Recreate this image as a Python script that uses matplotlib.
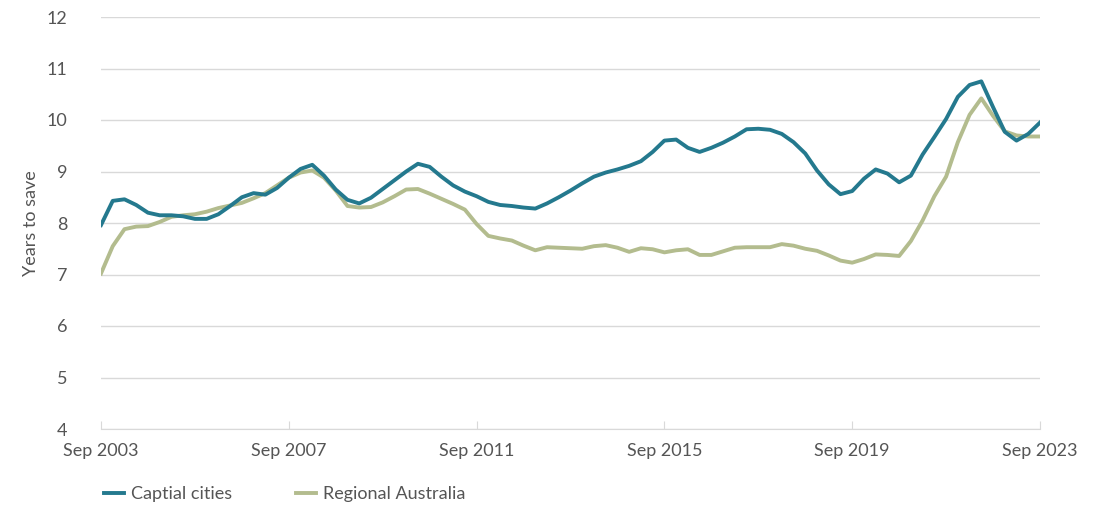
import matplotlib.pyplot as plt

# years to save for a deposit, quarterly Sep 2003 - Sep 2023
capital = [7.96, 8.43, 8.46, 8.35, 8.2, 8.15, 8.15, 8.13, 8.08, 8.08,
           8.17, 8.33, 8.5, 8.58, 8.55, 8.68, 8.88, 9.05, 9.13, 8.92,
           8.65, 8.45, 8.38, 8.49, 8.66, 8.83, 9.0, 9.15, 9.09, 8.9,
           8.73, 8.61, 8.52, 8.41, 8.35, 8.33, 8.3, 8.28, 8.38, 8.5,
           8.63, 8.77, 8.9, 8.98, 9.04, 9.11, 9.2, 9.38, 9.6, 9.62,
           9.46, 9.38, 9.46, 9.56, 9.68, 9.82, 9.83, 9.81, 9.73, 9.57,
           9.35, 9.02, 8.75, 8.56, 8.62, 8.86, 9.04, 8.96, 8.79, 8.92,
           9.33, 9.67, 10.02, 10.45, 10.68, 10.75, 10.25, 9.77, 9.6, 9.73,
           9.95]
regional = [7.02, 7.55, 7.88, 7.93, 7.94, 8.02, 8.12, 8.15, 8.17, 8.22,
            8.29, 8.34, 8.39, 8.48, 8.58, 8.73, 8.88, 8.98, 9.02, 8.88,
            8.63, 8.33, 8.3, 8.31, 8.4, 8.52, 8.65, 8.66, 8.57, 8.47,
            8.37, 8.26, 7.98, 7.75, 7.7, 7.66, 7.56, 7.47, 7.53, 7.52,
            7.51, 7.5, 7.55, 7.57, 7.52, 7.44, 7.51, 7.49, 7.43, 7.47,
            7.49, 7.38, 7.38, 7.45, 7.52, 7.53, 7.53, 7.53, 7.59, 7.56,
            7.5, 7.46, 7.37, 7.27, 7.23, 7.3, 7.39, 7.38, 7.36, 7.65,
            8.05, 8.52, 8.9, 9.57, 10.1, 10.42, 10.08, 9.78, 9.7, 9.68,
            9.68]
tick_pos = [0, 16, 32, 48, 64, 80]
tick_labels = ['Sep 2003', 'Sep 2007', 'Sep 2011', 'Sep 2015', 'Sep 2019', 'Sep 2023']

plt.rcParams['font.family'] = ['Lato', 'DejaVu Sans']
txt = '#555555'
grid = '#d9d9d9'

fig = plt.figure(figsize=(11.14, 5.09), dpi=100)
ax = fig.add_axes([101/1114, 1-429/509, (1040-101)/1114, (429-17)/509])

q = list(range(len(capital)))
ax.plot(q, regional, color='#b3bc8e', lw=2.8, label='Regional Australia', zorder=3)
ax.plot(q, capital, color='#24798e', lw=2.8, label='Captial cities', zorder=4)

ax.set_xlim(0, 80)
ax.set_ylim(4, 12)
ax.set_yticks(range(4, 13))
ax.set_xticks(tick_pos)
ax.set_xticklabels(tick_labels)
ax.yaxis.grid(True, color=grid, lw=1)
ax.set_axisbelow(True)
for s in ['left', 'right', 'top']:
    ax.spines[s].set_visible(False)
ax.spines['bottom'].set_color(grid)
ax.tick_params(axis='y', length=0, pad=24, labelsize=13, labelcolor=txt)
ax.tick_params(axis='x', direction='in', length=6, color=grid, pad=10,
               labelsize=13, labelcolor=txt)
ax.set_ylabel('Years to save', fontsize=13, color=txt, labelpad=6)

h, l = ax.get_legend_handles_labels()
fig.legend(h[::-1], l[::-1], loc='center left', bbox_to_anchor=(88/1114, 1-494/509),
           ncol=2, frameon=False, handlelength=1.1, handletextpad=0.4,
           columnspacing=3.5, fontsize=13, labelcolor=txt)

fig.savefig('out.png', dpi=100)
